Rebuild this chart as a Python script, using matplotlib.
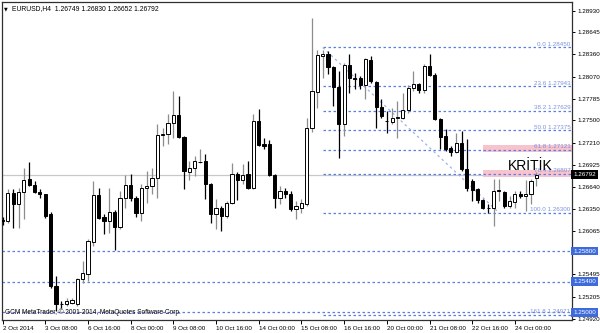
import numpy as np
import matplotlib
matplotlib.use("Agg")
import matplotlib.pyplot as plt
import matplotlib.transforms as mtransforms

# EURUSD H4 candles, 2 Oct - 24 Oct 2014
opens = [1.26209, 1.26196, 1.26560, 1.26417, 1.26573, 1.26742, 1.26664, 1.26573, 1.26547, 1.26287,
         1.25349, 1.25115, 1.25115, 1.25128, 1.25115, 1.25440, 1.25506, 1.25922, 1.26534, 1.26248,
         1.26196, 1.26313, 1.26118, 1.26495, 1.26664, 1.26495, 1.26300, 1.26625, 1.26651, 1.26755,
         1.27315, 1.27328, 1.27472, 1.27576, 1.27289, 1.26834, 1.26886, 1.26960, 1.26977, 1.26677,
         1.26287, 1.26365, 1.26261, 1.26430, 1.26808, 1.26729, 1.26808, 1.26625, 1.27498, 1.27198,
         1.27198, 1.26795, 1.26495, 1.26586, 1.26547, 1.26352, 1.26365, 1.26417, 1.27406, 1.27875,
         1.28344, 1.28370, 1.28201, 1.27940, 1.27459, 1.28227, 1.28057, 1.28057, 1.27966, 1.28292,
         1.28005, 1.27680, 1.27498, 1.27485, 1.27537, 1.27537, 1.27641, 1.27927, 1.27979, 1.27901,
         1.28214, 1.28097, 1.27524, 1.27302, 1.27146, 1.27094, 1.27211, 1.26873, 1.26716, 1.26612,
         1.26469, 1.26365, 1.26365, 1.26586, 1.26573, 1.26391, 1.26443, 1.26547, 1.26521, 1.26547,
         1.26749]
highs = [1.26248, 1.26612, 1.26612, 1.26625, 1.26886, 1.26964, 1.26716, 1.26612, 1.26547, 1.26313,
         1.25480, 1.25154, 1.25193, 1.25193, 1.25454, 1.25674, 1.25961, 1.26716, 1.26625, 1.26287,
         1.26625, 1.26339, 1.26586, 1.26795, 1.26808, 1.26521, 1.26677, 1.26847, 1.26886, 1.27459,
         1.27406, 1.27589, 1.27888, 1.27823, 1.27302, 1.26977, 1.27042, 1.27133, 1.27068, 1.26690,
         1.26482, 1.26391, 1.26456, 1.26951, 1.26834, 1.26938, 1.26977, 1.27589, 1.27654, 1.27276,
         1.27250, 1.26808, 1.26651, 1.26625, 1.26586, 1.26456, 1.26482, 1.27537, 1.28839, 1.28422,
         1.28422, 1.28409, 1.28214, 1.28149, 1.28253, 1.28370, 1.28123, 1.28084, 1.28318, 1.28344,
         1.28018, 1.27784, 1.27628, 1.27667, 1.27758, 1.27862, 1.27966, 1.28149, 1.27992, 1.28240,
         1.28370, 1.28123, 1.27537, 1.27393, 1.27172, 1.27341, 1.27367, 1.27263, 1.26742, 1.26625,
         1.26482, 1.26417, 1.26742, 1.26742, 1.26586, 1.26521, 1.26586, 1.26586, 1.26729, 1.26742,
         1.26830]
lows = [1.26144, 1.26170, 1.26105, 1.26105, 1.26222, 1.26651, 1.26560, 1.26495, 1.26235, 1.25323,
        1.25024, 1.25063, 1.25089, 1.25115, 1.25089, 1.25388, 1.25414, 1.25870, 1.26222, 1.26027,
        1.26040, 1.25818, 1.26092, 1.26365, 1.26456, 1.26248, 1.26196, 1.26430, 1.26547, 1.26495,
        1.27172, 1.27198, 1.27276, 1.27276, 1.26612, 1.26729, 1.26782, 1.26951, 1.26482, 1.26170,
        1.26092, 1.26066, 1.26235, 1.26417, 1.26469, 1.26677, 1.26612, 1.26612, 1.27172, 1.27133,
        1.26782, 1.26365, 1.26417, 1.26495, 1.26326, 1.26222, 1.26300, 1.26391, 1.27354, 1.27667,
        1.28057, 1.28110, 1.27693, 1.27016, 1.27302, 1.27862, 1.27914, 1.27914, 1.27784, 1.27992,
        1.27406, 1.27537, 1.27341, 1.27459, 1.27276, 1.27524, 1.27602, 1.27888, 1.27862, 1.27862,
        1.28084, 1.27511, 1.27133, 1.27107, 1.27042, 1.27081, 1.26847, 1.26586, 1.26456, 1.26430,
        1.26352, 1.26300, 1.26131, 1.26456, 1.26365, 1.26365, 1.26365, 1.26495, 1.26326, 1.26417,
        1.26652]
closes = [1.26196, 1.26560, 1.26417, 1.26573, 1.26729, 1.26664, 1.26573, 1.26547, 1.26261, 1.25349,
          1.25115, 1.25110, 1.25154, 1.25167, 1.25440, 1.25519, 1.25935, 1.26534, 1.26235, 1.26196,
          1.26313, 1.26118, 1.26495, 1.26664, 1.26495, 1.26300, 1.26625, 1.26651, 1.26755, 1.27315,
          1.27328, 1.27472, 1.27576, 1.27289, 1.26847, 1.26886, 1.26977, 1.26964, 1.26677, 1.26287,
          1.26365, 1.26261, 1.26430, 1.26808, 1.26729, 1.26795, 1.26625, 1.27498, 1.27185, 1.27172,
          1.26795, 1.26495, 1.26586, 1.26547, 1.26352, 1.26391, 1.26430, 1.27406, 1.27888, 1.28357,
          1.28370, 1.28201, 1.27940, 1.27459, 1.28227, 1.28057, 1.28044, 1.27966, 1.28305, 1.28018,
          1.27680, 1.27563, 1.27494, 1.27537, 1.27540, 1.27641, 1.27927, 1.27979, 1.27901, 1.28214,
          1.28097, 1.27524, 1.27289, 1.27133, 1.27094, 1.27211, 1.26873, 1.26625, 1.26599, 1.26469,
          1.26365, 1.26361, 1.26586, 1.26590, 1.26391, 1.26456, 1.26547, 1.26521, 1.26547, 1.26716,
          1.26792]

date_labels = ["2 Oct 2014", "3 Oct 08:00", "6 Oct 16:00", "8 Oct 00:00", "9 Oct 08:00",
               "10 Oct 16:00", "14 Oct 00:00", "15 Oct 08:00", "16 Oct 16:00", "20 Oct 00:00",
               "21 Oct 08:00", "22 Oct 16:00", "24 Oct 00:00"]
price_ticks = [1.28930, 1.28645, 1.28360, 1.28070, 1.27785, 1.27500, 1.27210, 1.26925,
               1.26640, 1.26350, 1.26065, 1.25780, 1.25495, 1.25205, 1.24920]

fib_levels = [0.0, 23.6, 38.2, 50.0, 61.8, 76.4, 100.0, 161.8]
fib_prices = [1.28450, 1.27943, 1.27629, 1.27375, 1.27121, 1.26807, 1.26300, 1.24971]
fib_start = 60      # bar where the fibo object starts
fib_end = 93        # second anchor of the fibo trend line
hlines = [1.25800, 1.25400, 1.25000]
bands = [(1.27083, 1.27174), (1.26770, 1.26849)]
band_start = 90.1
last_price = 1.26792

plt.rcParams["font.family"] = ["Liberation Sans", "DejaVu Sans"]
SMALL = 4.5

o = np.array(opens)
h = np.array(highs)
l = np.array(lows)
c = np.array(closes)
x = np.arange(len(o))
up = c >= o

fig = plt.figure(figsize=(6, 3.33), dpi=100)
ax = fig.add_axes([2 / 600, 13 / 333, 570 / 600, 318 / 333])
xmax = 106.7
ax.set_xlim(-0.1, xmax)
ax.set_ylim(1.24902, 1.29042)

# --- levels ---
ax.axhline(last_price, color="#c8c8c8", lw=0.9, zorder=1)
for p in hlines:
    ax.axhline(p, color="#5a7de6", lw=0.9, ls=(0, (2, 2)), zorder=2)

for lo, hi in bands:
    ax.fill_between([band_start, xmax], lo, hi, color="#f7c3cd", lw=0, zorder=1.5)

for lev, p in zip(fib_levels, fib_prices):
    ax.plot([fib_start, xmax], [p, p], color="#5a7de6", lw=0.9, ls=(0, (2, 2)), zorder=2)
    ax.text(xmax - 0.3, p + 0.00005, f"{lev:.1f} {p:.5f}", color="#7d93de",
            fontsize=SMALL, ha="right", va="bottom", zorder=6)
ax.plot([fib_start, fib_end], [fib_prices[0], fib_prices[6]], color="#9db3ee",
        lw=0.9, ls=(0, (2, 2.5)), zorder=2)

# --- candles ---
ax.vlines(x[up], l[up], h[up], color="#8c8c8c", lw=0.9, zorder=3)
ax.vlines(x[~up], l[~up], h[~up], color="black", lw=0.9, zorder=3)
body = np.maximum(np.abs(c - o), 0.00003)
ax.bar(x[up], body[up], bottom=np.minimum(o, c)[up], width=0.6, color="white",
       edgecolor="black", linewidth=0.7, zorder=4)
ax.bar(x[~up], body[~up], bottom=np.minimum(o, c)[~up], width=0.6, color="black",
       edgecolor="black", linewidth=0.7, zorder=4)

ax.text(98.9, 1.26858, "KRİTİK", fontsize=10, ha="center", va="baseline",
        color="black", zorder=7)

# header + copyright
ax.text(0.003, 0.986, "\u25bc", transform=ax.transAxes, fontsize=3.5, va="top",
        family="DejaVu Sans")
ax.text(0.017, 0.99, "EURUSD,H4  1.26749 1.26830 1.26652 1.26792", transform=ax.transAxes,
        fontsize=4.9, va="top")
ax.text(0.006, 0.012, "GCM MetaTrader, \u00a9 2001-2014, MetaQuotes Software Corp.",
        transform=ax.transAxes, fontsize=4.7, va="bottom")

# --- axes ---
for s in ax.spines.values():
    s.set_color("#303030")
    s.set_linewidth(0.9)
ax.yaxis.tick_right()
ax.set_yticks(price_ticks)
ax.set_yticklabels([f"{p:.5f}" if p != 1.25780 else "" for p in price_ticks])
ax.tick_params(axis="y", direction="out", length=2.5, width=0.7, pad=1.5, labelsize=SMALL)
ax.set_xticks(np.arange(0, 97, 8))
ax.set_xticklabels(date_labels, ha="left")
ax.tick_params(axis="x", direction="out", length=3, width=0.7, pad=1.5, labelsize=SMALL)

# price tags on the right scale
tr = mtransforms.blended_transform_factory(ax.transAxes, ax.transData)
for p in hlines:
    ax.text(1.002, p, f"{p:.5f}", transform=tr, fontsize=SMALL, color="white", va="center",
            ha="left", clip_on=False, zorder=8,
            bbox=dict(boxstyle="square,pad=0.3", fc="#3d6bdc", ec="none"))
ax.text(1.002, last_price, f"{last_price:.5f}", transform=tr, fontsize=SMALL, color="white",
        va="center", ha="left", clip_on=False, zorder=8,
        bbox=dict(boxstyle="square,pad=0.3", fc="black", ec="none"))

fig.savefig("out.png", dpi=100, facecolor="white")
